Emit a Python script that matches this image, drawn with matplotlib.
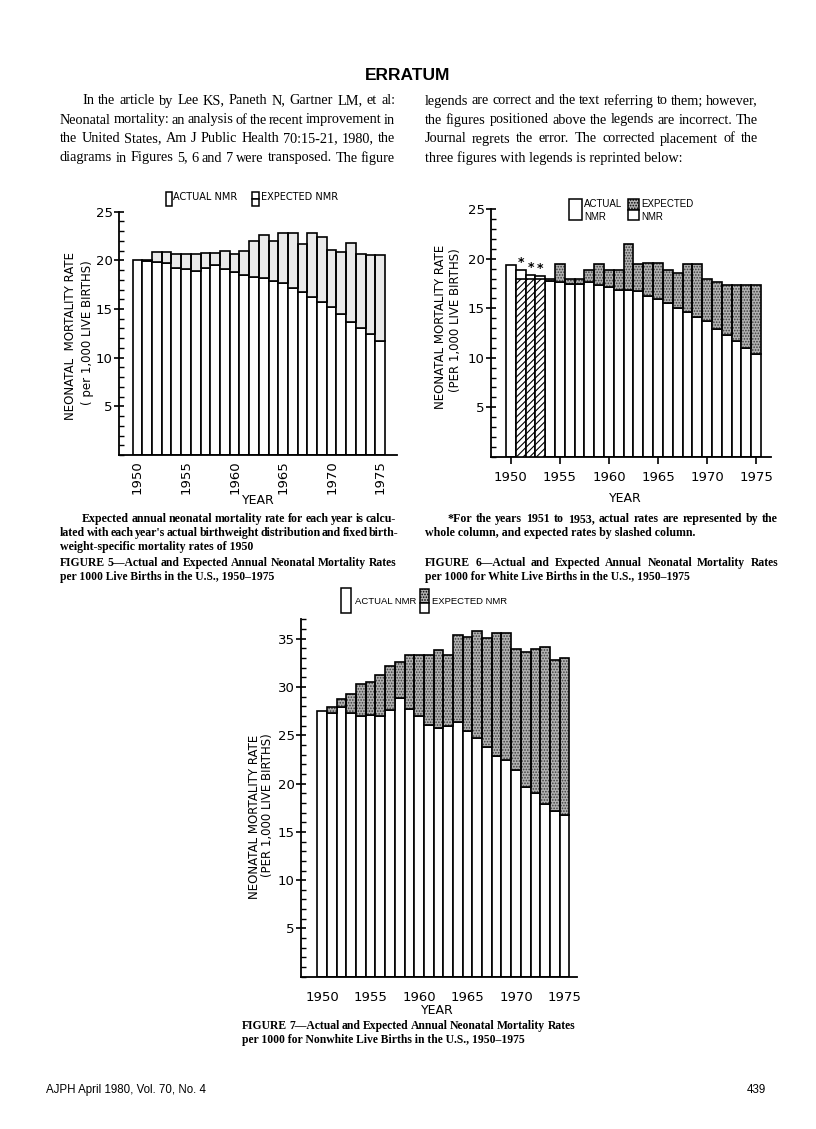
import matplotlib
matplotlib.use("Agg")
import matplotlib.pyplot as plt
from matplotlib.patches import Rectangle
from matplotlib.ticker import MultipleLocator

years = list(range(1950, 1976))

fig5_actual = [20.0, 19.9, 19.8, 19.7, 19.2, 19.1, 18.9, 19.2, 19.5, 19.1, 18.8, 18.5, 18.3,
               18.2, 17.9, 17.7, 17.2, 16.8, 16.2, 15.7, 15.2, 14.5, 13.7, 13.1, 12.4, 11.7]
fig5_expected = [20.0, 20.0, 20.9, 20.9, 20.7, 20.65, 20.65, 20.8, 20.8, 21.0, 20.7, 21.0, 22.0,
                 22.6, 22.0, 22.8, 22.8, 21.7, 22.8, 22.4, 21.1, 20.9, 21.8, 20.7, 20.5, 20.5]

fig6_actual = [19.4, 18.9, 18.4, 18.3, 17.8, 17.7, 17.45, 17.45, 17.7, 17.35, 17.1, 16.85, 16.85,
               16.7, 16.2, 15.9, 15.5, 15.0, 14.65, 14.15, 13.75, 12.9, 12.3, 11.7, 10.95, 10.35]
fig6_expected = [19.4, 18.0, 18.0, 18.0, 18.0, 19.5, 17.95, 17.95, 18.9, 19.45, 18.9, 18.9, 21.5,
                 19.5, 19.55, 19.55, 18.85, 18.6, 19.5, 19.5, 17.95, 17.7, 17.4, 17.4, 17.4, 17.4]

fig7_actual = [27.5, 27.3, 27.9, 27.3, 27.0, 27.1, 27.0, 27.65, 28.9, 27.75, 27.0, 26.05, 25.8,
               26.0, 26.4, 25.4, 24.7, 23.75, 22.9, 22.4, 21.4, 19.6, 19.05, 17.9, 17.15, 16.7]
fig7_expected = [27.5, 27.9, 28.75, 29.3, 30.3, 30.5, 31.2, 32.2, 32.55, 33.35, 33.35, 33.35, 33.85,
                 33.3, 35.35, 35.2, 35.8, 35.05, 35.65, 35.65, 33.95, 33.6, 33.95, 34.1, 32.8, 33.0]

year_ticks = [1950, 1955, 1960, 1965, 1970, 1975]

para_left = ["In the article by Lee KS, Paneth N, Gartner LM, et al:",
             "Neonatal mortality: an analysis of the recent improvement in",
             "the United States, Am J Public Health 70:15-21, 1980, the",
             "diagrams in Figures 5, 6 and 7 were transposed. The figure"]
para_right = ["legends are correct and the text referring to them; however,",
              "the figures positioned above the legends are incorrect. The",
              "Journal regrets the error. The corrected placement of the",
              "three figures with legends is reprinted below:"]

W, H = 816, 1129
fig = plt.figure(figsize=(W / 100, H / 100), dpi=100)
fig.patch.set_facecolor("white")

serif = "Liberation Serif"
sans = "Liberation Sans"

LIGHT = "#e9e9e9"     # punteado claro de la figura 5
DARK_BG = "#b2b2b2"   # punteado oscuro de las figuras 6 y 7
DOTS = "#3c3c3c"
plt.rcParams["hatch.linewidth"] = 0.8


def fx(x):
    return x / W


def fy(y):
    return 1 - y / H


def add_ax(left, right, bottom, top):
    return fig.add_axes([fx(left), fy(bottom), (right - left) / W, (bottom - top) / H])


def draw_bars(ax, actual, expected, dark):
    extra_y = [y for y, a, e in zip(years, actual, expected) if e > a]
    extra_b = [a for a, e in zip(actual, expected) if e > a]
    extra_h = [e - a for a, e in zip(actual, expected) if e > a]
    ax.bar(years, actual, width=1, color="white", edgecolor="black", linewidth=1.2, zorder=2)
    if dark:
        ax.bar(extra_y, extra_h, bottom=extra_b, width=1, facecolor=DARK_BG, edgecolor=DOTS,
               linewidth=0, hatch="......", zorder=2)
    else:
        ax.bar(extra_y, extra_h, bottom=extra_b, width=1, facecolor=LIGHT, linewidth=0, zorder=2)
    ax.bar(extra_y, extra_h, bottom=extra_b, width=1, fill=False, edgecolor="black",
           linewidth=1.2, zorder=3)
    # anios en que la tasa esperada es menor que la real (columna rayada)
    low_y = [y for y, a, e in zip(years, actual, expected) if e < a]
    low_h = [e for a, e in zip(actual, expected) if e < a]
    low_top = [a for a, e in zip(actual, expected) if e < a]
    if low_y:
        ax.bar(low_y, low_h, width=1, facecolor="white", edgecolor="black", linewidth=1.2,
               hatch="/////", zorder=3)
        for y, t in zip(low_y, low_top):
            ax.text(y, t + 0.1, "*", ha="center", va="bottom", fontsize=9, fontweight="bold",
                    zorder=4)


def style_axes(ax, ymax):
    for s in ["top", "right"]:
        ax.spines[s].set_visible(False)
    for s in ["left", "bottom"]:
        ax.spines[s].set_linewidth(1.3)
    ax.set_ylim(0, ymax)
    ax.yaxis.set_minor_locator(MultipleLocator(1))
    ax.set_yticks([t for t in range(5, int(ymax) + 1, 5)])
    ax.tick_params(axis="y", which="major", direction="inout", length=7, width=1.2,
                   labelsize=9.5, pad=1)
    ax.tick_params(axis="y", which="minor", direction="in", length=3.5, width=1.0)
    ax.set_xticks(year_ticks)
    ax.set_facecolor("none")


# ---------- Figura 5 ----------
ax5 = add_ax(119, 397, 455, 211.7)
draw_bars(ax5, fig5_actual, fig5_expected, dark=False)
style_axes(ax5, 25)
ax5.set_xlim(1948.09, 1976.74)
ax5.tick_params(axis="x", length=0, labelsize=9.5, labelrotation=90, pad=4)

# ---------- Figura 6 ----------
ax6 = add_ax(491, 770.7, 456.7, 209.3)
draw_bars(ax6, fig6_actual, fig6_expected, dark=True)
style_axes(ax6, 25)
ax6.set_xlim(1947.97, 1976.49)
ax6.tick_params(axis="x", direction="out", length=5, width=1.2, labelsize=9.5, pad=5)

# ---------- Figura 7 ----------
ax7 = add_ax(301, 576.7, 976.7, 619)
draw_bars(ax7, fig7_actual, fig7_expected, dark=True)
style_axes(ax7, 37.05)
ax7.set_xlim(1947.82, 1976.26)
ax7.tick_params(axis="x", length=0, labelsize=9.5, pad=10)

# Titulos de ejes
lab = dict(fontsize=8.5, rotation=90, ha="center", va="center")
fig.text(fx(71), fy(336), "NEONATAL  MORTALITY RATE", **lab)
fig.text(fx(87), fy(333), "( per 1,000 LIVE BIRTHS)", **lab)
fig.text(fx(441), fy(327), "NEONATAL MORTALITY RATE", **lab)
fig.text(fx(455), fy(320), "(PER 1,000 LIVE BIRTHS)", **lab)
fig.text(fx(254), fy(817), "NEONATAL MORTALITY RATE", **lab)
fig.text(fx(268), fy(805), "(PER 1,000 LIVE BIRTHS)", **lab)
fig.text(fx(258), fy(500), "YEAR", fontsize=9, ha="center", va="center")
fig.text(fx(625), fy(499), "YEAR", fontsize=9, ha="center", va="center")
fig.text(fx(437), fy(1011), "YEAR", fontsize=9, ha="center", va="center")


# Leyendas
def box(x0, x1, y0, y1, **kw):
    fig.patches.append(Rectangle((fx(x0), fy(y1)), (x1 - x0) / W, (y1 - y0) / H,
                                 transform=fig.transFigure, linewidth=1.1, **kw))


box(166, 171.5, 191.7, 206, facecolor="white", edgecolor="black")
box(251.7, 259, 191.7, 199, facecolor="white", edgecolor="black")
box(251.7, 259, 199, 206, facecolor="white", edgecolor="black")
fig.text(fx(173), fy(197.5), "ACTUAL NMR", fontsize=7, va="center")
fig.text(fx(261), fy(197.5), "EXPECTED NMR", fontsize=7, va="center")

box(569.3, 581.7, 199, 220, facecolor="white", edgecolor="black")
box(627.7, 639.3, 199, 210, facecolor=DARK_BG, edgecolor="black", hatch="......")
box(627.7, 639.3, 210, 220, facecolor="white", edgecolor="black")
leg = dict(fontsize=7, family=sans, va="center")
fig.text(fx(584), fy(204), "ACTUAL", **leg)
fig.text(fx(584), fy(216.5), "NMR", **leg)
fig.text(fx(641), fy(204), "EXPECTED", **leg)
fig.text(fx(641), fy(216.5), "NMR", **leg)

box(341, 351, 588, 613, facecolor="white", edgecolor="black")
box(420, 429, 589, 603, facecolor=DARK_BG, edgecolor="black", hatch="......")
box(420, 429, 603, 613, facecolor="white", edgecolor="black")
fig.text(fx(355), fy(601), "ACTUAL NMR", fontsize=6.8, family=sans, va="center")
fig.text(fx(432), fy(601), "EXPECTED NMR", fontsize=6.8, family=sans, va="center")


# Texto de la pagina
def put_line(text, x0, x1, y, size, weight="normal", justify=True):
    kw = dict(fontsize=size, fontweight=weight, family=serif, va="center", ha="left")
    if not justify:
        fig.text(fx(x0), fy(y), text, **kw)
        return
    words = text.split(" ")
    arts = [fig.text(0, 0, w, **kw) for w in words]
    r = fig.canvas.get_renderer()
    widths = [a.get_window_extent(r).width for a in arts]
    gap = max((x1 - x0 - sum(widths)) / (len(words) - 1), 1.5)
    x = x0
    for a, w in zip(arts, widths):
        a.set_position((fx(x), fy(y)))
        x += w + gap


fig.text(fx(408), fy(75), "ERRATUM", fontsize=12.5, fontweight="bold",
         family=sans, ha="center", va="center")

for i, (l, r) in enumerate(zip(para_left, para_right)):
    y = 101 + i * 19
    put_line(l, 82 if i == 0 else 60, 395, y, 10.3)
    put_line(r, 425, 758, y, 10.3, justify=(i < 3))

put_line("Expected annual neonatal mortality rate for each year is calcu-", 82, 396, 519, 8.6, "bold")
put_line("lated with each year's actual birthweight distribution and fixed birth-", 60, 396, 533, 8.6, "bold")
put_line("weight-specific mortality rates of 1950", 60, 396, 547, 8.6, "bold", justify=False)
put_line("FIGURE 5\u2014Actual and Expected Annual Neonatal Mortality Rates", 60, 396, 563, 8.4, "bold")
put_line("per 1000 Live Births in the U.S., 1950\u20131975", 60, 396, 577, 8.4, "bold", justify=False)

put_line("*For the years 1951 to 1953, actual rates are represented by the", 447, 778, 519, 8.6, "bold")
put_line("whole column, and expected rates by slashed column.", 425, 778, 533, 8.6, "bold", justify=False)
put_line("FIGURE 6\u2014Actual and Expected Annual Neonatal Mortality Rates", 425, 778, 563, 8.4, "bold")
put_line("per 1000 for White Live Births in the U.S., 1950\u20131975", 425, 778, 577, 8.4, "bold", justify=False)

put_line("FIGURE 7\u2014Actual and Expected Annual Neonatal Mortality Rates", 242, 575, 1026, 8.4, "bold")
put_line("per 1000 for Nonwhite Live Births in the U.S., 1950\u20131975", 242, 575, 1040, 8.4, "bold", justify=False)

fig.text(fx(46), fy(1090), "AJPH April 1980, Vol. 70, No. 4", fontsize=8.3,
         family=sans, va="center")
fig.text(fx(766), fy(1090), "439", fontsize=8.3, family=sans, ha="right", va="center")

fig.savefig("out.png", dpi=100, facecolor="white")
